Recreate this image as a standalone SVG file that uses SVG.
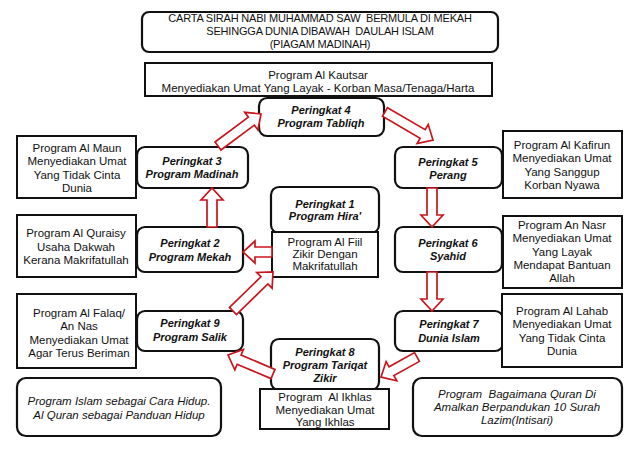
<svg xmlns="http://www.w3.org/2000/svg" width="640" height="452" viewBox="0 0 640 452">
<style>
text{font-family:"Liberation Sans",Arial,sans-serif;font-size:11.5px;fill:#111;text-anchor:middle}
.t{font-size:11px;letter-spacing:-0.2px}
.p{font-weight:bold;font-style:italic;font-size:11px}
.i{font-style:italic}
.pre{white-space:pre}
.box{fill:#fff;stroke:#111;stroke-width:2}
.rbox{fill:#fff;stroke:#111;stroke-width:2.2}
.arr{fill:#fff;stroke:#c8161d;stroke-width:1.7;stroke-linejoin:miter}
</style>
<rect width="640" height="452" fill="#fff"/>
<g id="title">
<rect class="rbox" x="142" y="12" width="356" height="40" rx="7"/>
<text class="t pre" x="320" y="22">CARTA SIRAH NABI MUHAMMAD SAW  BERMULA DI MEKAH</text>
<text class="t pre" x="320" y="35">SEHINGGA DUNIA DIBAWAH  DAULAH ISLAM</text>
<text class="t" x="320" y="48">(PIAGAM MADINAH)</text>
</g>
<g id="alkautsar">
<rect class="box" x="145" y="63" width="347" height="33"/>
<text x="318" y="79">Program Al Kautsar</text>
<text x="318" y="92">Menyediakan Umat Yang Layak - Korban Masa/Tenaga/Harta</text>
</g>
<g id="p4">
<rect class="rbox" x="259" y="98" width="125" height="38" rx="8"/>
<text class="p" x="321" y="114">Peringkat 4</text>
<text class="p" x="321" y="127">Program Tabliqh</text>
</g>
<g id="p3">
<rect class="rbox" x="137" y="147" width="111" height="41" rx="8"/>
<text class="p" x="192" y="165">Peringkat 3</text>
<text class="p" x="192" y="178">Program Madinah</text>
</g>
<g id="almaun">
<rect class="box" x="17" y="136" width="119" height="62"/>
<text x="77" y="152">Program Al Maun</text>
<text x="77" y="165">Menyediakan Umat</text>
<text x="77" y="178.5">Yang Tidak Cinta</text>
<text x="77" y="192">Dunia</text>
</g>
<g id="p5">
<rect class="rbox" x="395" y="147" width="107" height="41" rx="8"/>
<text class="p" x="448" y="166">Peringkat 5</text>
<text class="p" x="448" y="178.5">Perang</text>
</g>
<g id="alkafirun">
<rect class="box" x="503" y="131" width="119" height="67"/>
<text x="562" y="149">Program Al Kafirun</text>
<text x="562" y="162">Menyediakan Umat</text>
<text x="562" y="176">Yang Sanggup</text>
<text x="562" y="189">Korban Nyawa</text>
</g>
<g id="p1">
<rect class="rbox" x="271" y="187" width="108" height="46" rx="8"/>
<text class="p" x="325" y="208">Peringkat 1</text>
<text class="p" x="325" y="220">Program Hira'</text>
</g>
<g id="alfiil">
<rect class="box" x="272" y="232" width="106" height="45"/>
<text x="325" y="246">Program Al Fiil</text>
<text x="325" y="258">Zikir Dengan</text>
<text x="325" y="270">Makrifatullah</text>
</g>
<g id="p2">
<rect class="rbox" x="137" y="227" width="106" height="45" rx="8"/>
<text class="p" x="190" y="247">Peringkat 2</text>
<text class="p" x="190" y="261">Program Mekah</text>
</g>
<g id="alquraisy">
<rect class="box" x="17" y="215" width="119" height="62"/>
<text x="76" y="237">Program Al Quraisy</text>
<text x="76" y="250.5">Usaha Dakwah</text>
<text x="76" y="264">Kerana Makrifatullah</text>
</g>
<g id="p6">
<rect class="rbox" x="395" y="227" width="107" height="45" rx="8"/>
<text class="p" x="448" y="247">Peringkat 6</text>
<text class="p" x="448" y="260">Syahid</text>
</g>
<g id="annasr">
<rect class="box" x="503" y="216" width="119" height="72"/>
<text x="562" y="229">Program An Nasr</text>
<text x="562" y="242">Menyediakan Umat</text>
<text x="562" y="255.5">Yang Layak</text>
<text x="562" y="269">Mendapat Bantuan</text>
<text x="562" y="282">Allah</text>
</g>
<g id="alfalaq">
<rect class="box" x="17" y="294" width="119" height="74"/>
<text x="79" y="317">Program Al Falaq/</text>
<text x="79" y="330">An Nas</text>
<text x="79" y="344">Menyediakan Umat</text>
<text x="79" y="357">Agar Terus Beriman</text>
</g>
<g id="p9">
<rect class="rbox" x="137" y="311" width="106" height="40" rx="8"/>
<text class="p" x="190" y="327">Peringkat 9</text>
<text class="p" x="190" y="341">Program Salik</text>
</g>
<g id="p7">
<rect class="rbox" x="395" y="311" width="108" height="40" rx="8"/>
<text class="p" x="449" y="328">Peringkat 7</text>
<text class="p" x="449" y="342">Dunia Islam</text>
</g>
<g id="allahab">
<rect class="box" x="502" y="294" width="120" height="73"/>
<text x="562" y="315">Program Al Lahab</text>
<text x="562" y="328">Menyediakan Umat</text>
<text x="562" y="342">Yang Tidak Cinta</text>
<text x="562" y="355">Dunia</text>
</g>
<g id="p8">
<rect class="rbox" x="271" y="339" width="108" height="51" rx="8"/>
<text class="p" x="325" y="356">Peringkat 8</text>
<text class="p" x="325" y="369">Program Tariqat</text>
<text class="p" x="325" y="382">Zikir</text>
</g>
<g id="alikhlas">
<rect class="box" x="260" y="389" width="129" height="40"/>
<text class="pre" x="325" y="401">Program  Al Ikhlas</text>
<text x="325" y="414">Menyediakan Umat</text>
<text x="325" y="426">Yang Ikhlas</text>
</g>
<g id="islamhidup">
<rect class="rbox" x="17" y="378" width="204" height="58" rx="9"/>
<text class="i" x="119" y="405">Program Islam sebagai Cara Hidup.</text>
<text class="i" x="119" y="419">Al Quran sebagai Panduan Hidup</text>
</g>
<g id="quran">
<rect class="rbox" x="413" y="378" width="209" height="58" rx="9"/>
<text class="i pre" x="517" y="398">Program  Bagaimana Quran Di</text>
<text class="i" x="517" y="411">Amalkan Berpandukan 10 Surah</text>
<text class="i" x="517" y="424">Lazim(Intisari)</text>
</g>
<g id="connectors">
<path class="arr" transform="translate(212,227) rotate(-90)" d="M0,-5 L27,-5 L27,-11 L39,0 L27,11 L27,5 L0,5 Z"/>
<path class="arr" transform="translate(218,146) rotate(-36.7)" d="M0,-5 L41.6,-5 L41.6,-11 L53.6,0 L41.6,11 L41.6,5 L0,5 Z"/>
<path class="arr" transform="translate(385,112) rotate(30.3)" d="M0,-5 L43.6,-5 L43.6,-11 L55.6,0 L43.6,11 L43.6,5 L0,5 Z"/>
<path class="arr" transform="translate(432,188) rotate(90)" d="M0,-5 L27,-5 L27,-11 L39,0 L27,11 L27,5 L0,5 Z"/>
<path class="arr" transform="translate(432,272) rotate(90)" d="M0,-5 L27,-5 L27,-11 L39,0 L27,11 L27,5 L0,5 Z"/>
<path class="arr" transform="translate(417,357) rotate(150.9)" d="M0,-5 L29.2,-5 L29.2,-11 L41.2,0 L29.2,11 L29.2,5 L0,5 Z"/>
<path class="arr" transform="translate(273,374) rotate(-157.1)" d="M0,-5 L36.8,-5 L36.8,-11 L48.8,0 L36.8,11 L36.8,5 L0,5 Z"/>
<path class="arr" transform="translate(233,311) rotate(-44.3)" d="M0,-5 L43.9,-5 L43.9,-11 L55.9,0 L43.9,11 L43.9,5 L0,5 Z"/>
<path class="arr" transform="translate(272,252) rotate(180)" d="M0,-5 L17,-5 L17,-11 L29,0 L17,11 L17,5 L0,5 Z"/>
</g>
</svg>
